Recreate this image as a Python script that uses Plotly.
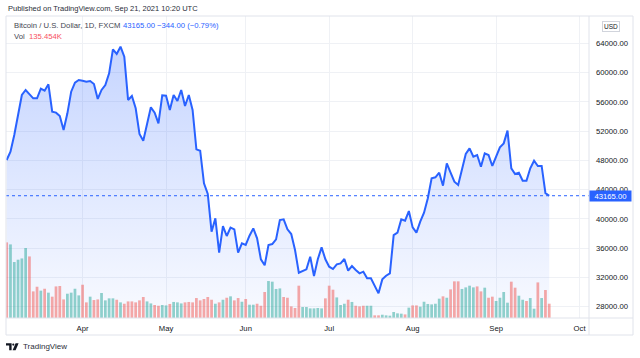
import pandas as pd
import plotly.graph_objects as go

# ---------------- data ----------------
start_date = "2021-03-04"
end_date = "2021-09-21"
axis_end_date = "2021-10-08"

close = [
    48050, 49190, 51460, 53970, 56930, 57620, 57070, 56480, 56480, 57800,
    57520, 58390, 54650, 54520, 54060, 52150, 54430, 57390, 58620, 58980,
    58890, 58760, 58850, 58440, 56390, 57620, 58300, 59890, 63180, 62540,
    63540, 62170, 56250, 56800, 55110, 51600, 50690, 53150, 55250, 54520,
    53060, 56890, 56840, 54880, 56930, 56110, 57620, 55430, 56930, 54880,
    49500, 49320, 44860, 43400, 38250, 40070, 35380, 39020, 37660, 38800,
    38570, 35380, 36650, 36430, 37700, 38700, 37340, 34470, 33650, 36430,
    36560, 37200, 39840, 39930, 38570, 37930, 35740, 32640, 32920, 33100,
    34830, 32190, 34470, 36110, 34470, 33460, 33140, 33780, 33920, 34510,
    32920, 33550, 33010, 32550, 32780, 31870, 31870, 30820, 29820, 31730,
    32230, 32550, 37790, 38110, 39930, 39750, 41070, 38840, 38110, 39620,
    40850, 42810, 45540, 45680, 46310, 44540, 47590, 46310, 45080, 44630,
    46910, 48870, 49640, 48500, 48730, 47130, 48960, 48730, 47230, 48590,
    49780, 50320, 52060, 46910, 46130, 46310, 45220, 45220, 46910, 47950,
    47230, 47230, 43509, 43165,
]

volume_k = [
    716, 697, 530, 552, 564, 663, 583, 252, 296, 259,
    277, 240, 202, 299, 303, 176, 230, 240, 277, 214,
    315, 148, 202, 170, 176, 237, 167, 186, 186, 173,
    148, 135, 157, 157, 148, 167, 199, 157, 138, 123,
    116, 123, 119, 133, 152, 148, 138, 148, 152, 148,
    189, 167, 180, 199, 173, 135, 148, 173, 192, 205,
    167, 189, 154, 180, 126, 126, 135, 116, 246, 350,
    344, 275, 280, 199, 192, 110, 95, 306, 104, 104,
    91, 91, 95, 91, 186, 306, 268, 195, 123, 135,
    173, 152, 116, 110, 116, 116, 116, 25, 25, 31,
    25, 22, 57, 44, 41, 34, 98, 119, 119, 107,
    154, 133, 129, 135, 183, 205, 192, 271, 347, 347,
    275, 290, 306, 290, 299, 252, 287, 192, 202, 161,
    192, 246, 145, 344, 287, 211, 173, 161, 189, 88,
    337, 189, 265, 135.454,
]

# candle direction per bar: u = up (green volume), d = down (red volume)
direction_groups = [
    "d u u u u u d d d u d u d d d d u u u u d d u d d",
    "u u u u d u d d d d d d u u d d u u d u u u d d",
    "d d d d d d u d u d u d d u d u u d d d u u u u d d",
    "d d d u u u u u u d d d u u u d u d d d u u d d u",
    "u u u u u d u d d u u u u u u d u d d d u u u u d",
    "d u d d u u u u d d u u d u u d u d d",
]
direction = [c for g in direction_groups for c in g.split()]

month_ticks = ["2021-04-01", "2021-05-03", "2021-06-01", "2021-07-01",
               "2021-08-02", "2021-09-01", "2021-10-01"]
month_labels = ["Apr", "May", "Jun", "Jul", "Aug", "Sep", "Oct"]
price_ticks = [28000, 32000, 36000, 40000, 44000, 48000, 52000, 56000, 60000, 64000]

last_price = 43165
change_text = "\u2212344.00 (\u22120.79%)"
last_volume_text = "135.454K"

# ---------------- layout constants ----------------
W, H = 640, 358
L, R, T, B = 6, 51, 16, 40
PW, PH = W - L - R, H - T - B


def px(x):
    return (x - L) / PW


def py(y):
    return (H - B - y) / PH


dates = [d.strftime("%Y-%m-%d") for d in pd.bdate_range(start_date, end_date)]
axis_dates = [d.strftime("%Y-%m-%d") for d in pd.bdate_range(start_date, axis_end_date)]

UP = "rgba(38,166,154,0.5)"
DOWN = "rgba(239,83,80,0.5)"
vol_colors = [UP if c == "u" else DOWN for c in direction]

FONT = "Liberation Sans, Arial, sans-serif"
TXT = "#131722"
BLUE = "#2962ff"
GRID = "#eff1f5"
BORDER = "#e0e3eb"

y_lo, y_hi = 26449, 67732

fig = go.Figure()

fig.add_trace(go.Scatter(
    x=dates, y=close, mode="lines",
    line=dict(color=BLUE, width=2),
    fill="tozeroy",
    fillgradient=dict(
        type="vertical",
        colorscale=[[0, "rgba(41,98,255,0.03)"], [1, "rgba(41,98,255,0.27)"]],
        start=y_lo, stop=64000,
    ),
    hoverinfo="skip", showlegend=False,
))

fig.add_trace(go.Bar(
    x=dates, y=volume_k, yaxis="y2",
    marker=dict(color=vol_colors, line=dict(width=0)),
    hoverinfo="skip", showlegend=False,
))

fig.update_layout(
    width=W, height=H,
    margin=dict(l=L, r=R, t=T, b=B),
    paper_bgcolor="white", plot_bgcolor="white",
    bargap=0.28,
    font=dict(family=FONT, size=7.7, color=TXT),
    xaxis=dict(
        type="category", categoryorder="array", categoryarray=axis_dates,
        range=[-0.18, 153.48],
        tickmode="array", tickvals=month_ticks, ticktext=month_labels,
        showgrid=True, gridcolor=GRID, gridwidth=1,
        showline=False, zeroline=False, ticks="",
        ticklabelstandoff=4,
        tickfont=dict(size=7.7, color=TXT),
        automargin=False,
    ),
    yaxis=dict(
        side="right", range=[y_lo, y_hi],
        tickmode="array", tickvals=price_ticks, tickformat=".2f",
        showgrid=True, gridcolor=GRID, gridwidth=1,
        showline=False, zeroline=False, ticks="",
        ticklabelstandoff=6,
        tickfont=dict(size=7.7, color=TXT),
        automargin=False,
    ),
    yaxis2=dict(
        overlaying="y", range=[0, 2860], visible=False,
    ),
)

shapes = [
    # last price dotted line
    dict(type="line", xref="paper", yref="y", x0=0, x1=1, y0=last_price, y1=last_price,
         line=dict(color=BLUE, width=1, dash="dot")),
    # chart frame
    dict(type="rect", xref="paper", yref="paper", x0=px(6), x1=px(633), y0=py(16), y1=py(335),
         line=dict(color=BORDER, width=1)),
    dict(type="line", xref="paper", yref="paper", x0=px(589), x1=px(589), y0=py(16), y1=py(335),
         line=dict(color=BORDER, width=1)),
    dict(type="line", xref="paper", yref="paper", x0=px(6), x1=px(633), y0=py(318), y1=py(318),
         line=dict(color=BORDER, width=1)),
]


def path(points):
    return "M " + " L ".join(f"{px(a):.5f},{py(b):.5f}" for a, b in points) + " Z"


# TradingView logo
shapes.append(dict(type="path", xref="paper", yref="paper",
                   path=path([(6, 343.3), (11.6, 343.3), (11.6, 350.3), (9.2, 350.3), (9.2, 345.6), (6, 345.6)]),
                   fillcolor=TXT, line=dict(width=0)))
shapes.append(dict(type="circle", xref="paper", yref="paper",
                   x0=px(12.2), x1=px(14.4), y0=py(343.5), y1=py(345.7),
                   fillcolor=TXT, line=dict(width=0)))
shapes.append(dict(type="path", xref="paper", yref="paper",
                   path=path([(15.6, 343.3), (18.6, 343.3), (15.6, 350.3), (12.6, 350.3)]),
                   fillcolor=TXT, line=dict(width=0)))

fig.update_layout(shapes=shapes)


def ann(text, x, y, color=TXT, size=7.7, xanchor="left", **kw):
    d = dict(text=text, xref="paper", yref="paper", x=px(x), y=py(y),
             xanchor=xanchor, yanchor="middle", showarrow=False,
             font=dict(family=FONT, size=size, color=color))
    d.update(kw)
    return d


annotations = [
    ann("Published on TradingView.com, Sep 21, 2021 10:20 UTC", 6, 9, color="#2a2e39", size=7.5),
    ann("Bitcoin / U.S. Dollar, 1D, FXCM", 11.5, 25.6, color="#434651"),
    ann(f"{last_price:.2f}", 121, 25.6, color=BLUE),
    ann(change_text, 155.5, 25.6, color=BLUE),
    ann("Vol", 11.5, 36.6, color="#434651"),
    ann(last_volume_text, 26.5, 36.6, color="#f7525f"),
    ann("TradingView", 21, 346.8, color="#2a2e39", size=8),
    ann("USD", 611.3, 27, size=6.5, xanchor="center",
        bordercolor="#d1d4dc", borderwidth=1, borderpad=1, bgcolor="white"),
    dict(text=f"{last_price:.2f}", xref="paper", yref="y", x=px(589.3), y=last_price,
         xanchor="left", yanchor="middle", showarrow=False,
         width=41, height=10, bgcolor=BLUE, borderpad=0,
         font=dict(family=FONT, size=7.7, color="white")),
]
fig.update_layout(annotations=annotations)

fig.write_html("out.html", config={"displayModeBar": False},
               post_script="document.body.style.margin='0';")
